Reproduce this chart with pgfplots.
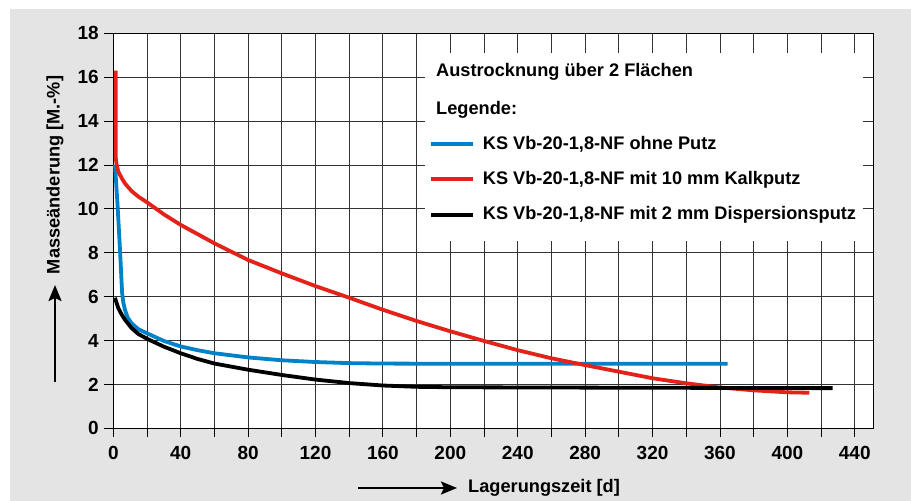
\documentclass[border=0pt]{standalone}
\usepackage{pgfplots}
\pgfplotsset{compat=1.18}
\usepackage{fontspec}
\setmainfont{Liberation Sans}
\usetikzlibrary{arrows.meta}
\definecolor{bggray}{RGB}{227,228,227}
\definecolor{cblue}{RGB}{0,130,200}
\definecolor{cred}{RGB}{227,34,25}
\begin{document}
\begin{tikzpicture}
\path[use as bounding box] (0pt,0pt) rectangle (911pt,501pt);
\fill[white] (0pt,0pt) rectangle (911pt,501pt);
\fill[bggray] (10pt,0pt) rectangle (911pt,492pt);
\begin{axis}[
  at={(113.3pt,72.7pt)}, anchor=south west,
  width=760pt, height=395pt, scale only axis,
  xmin=0, xmax=451, ymin=0, ymax=18,
  xtick={0,20,...,440},
  xticklabels={0,,40,,80,,120,,160,,200,,240,,280,,320,,360,,400,,440},
  ytick={0,2,...,18},
  grid=major,
  major grid style={black!80, line width=0.9pt},
  tick align=outside, tick pos=left,
  major tick length=9pt,
  tick style={black, line width=0.9pt},
  axis line style={black, line width=1.3pt},
  axis background/.style={fill=white},
  /pgf/number format/assume math mode=true,
  ticklabel style={font=\fontsize{19}{22}\selectfont\bfseries},
  xticklabel style={yshift=-5pt},
  yticklabel style={xshift=-2pt},
  clip=false,
]
\addplot[cblue, line width=3.8pt] coordinates {
 (1,12) (2.5,10.2) (4,8.1) (4.7,7.0) (5.2,6.2) (5.9,5.75) (6.9,5.4) (8.5,5.05)
 (10.8,4.79) (14.8,4.52) (20,4.33) (30,3.98) (40,3.73) (50,3.56) (60,3.42)
 (80,3.23) (100,3.1) (120,3.02) (140,2.97) (160,2.95) (200,2.94) (300,2.94) (364.5,2.94)
};
\addplot[cred, line width=3.8pt] coordinates {
 (1.5,16.3) (1.5,12.3) (2,12) (3,11.7) (5,11.4) (7,11.15) (11,10.8) (15,10.55)
 (20,10.3) (30,9.75) (40,9.27) (60,8.43) (80,7.67) (100,7.06) (120,6.48)
 (140,5.95) (160,5.4) (180,4.89) (200,4.42) (220,3.98) (240,3.56) (260,3.19)
 (280,2.88) (300,2.58) (320,2.28) (340,2.05) (360,1.86) (380,1.73) (400,1.64) (413,1.62)
};
\addplot[black, line width=3.8pt] coordinates {
 (1,5.95) (2,5.7) (3,5.47) (5,5.18) (6.9,4.95) (10.8,4.57) (14.8,4.3) (20,4.08)
 (30,3.72) (40,3.42) (50,3.16) (60,2.95) (80,2.67) (100,2.43) (120,2.22) (140,2.06)
 (160,1.95) (180,1.89) (200,1.87) (300,1.85) (426.8,1.83)
};
\end{axis}
% legend box
\fill[white] (425pt,260.3pt) rectangle (863pt,448pt);
\begin{scope}[every node/.style={font=\fontsize{18.2}{21}\selectfont\bfseries, inner sep=0pt, anchor=west}]
\node at (436pt,429.3pt) {Austrocknung über 2 Flächen};
\node at (436pt,391pt) {Legende:};
\draw[cblue, line width=3.8pt] (431pt,357pt) -- (473pt,357pt);
\node at (482.7pt,357pt) {KS Vb-20-1,8-NF ohne Putz};
\draw[cred, line width=3.8pt] (431pt,321.7pt) -- (473pt,321.7pt);
\node at (482.7pt,321.7pt) {KS Vb-20-1,8-NF mit 10 mm Kalkputz};
\draw[black, line width=3.8pt] (431pt,286pt) -- (473pt,286pt);
\node at (482.7pt,286pt) {KS Vb-20-1,8-NF mit 2 mm Dispersionsputz};
\node at (468pt,13pt) {Lagerungszeit [d]};
\node[anchor=center, rotate=90] at (55pt,326pt) {Masseänderung [M.-\%]};
\end{scope}
\draw[line width=2.2pt, -{Stealth[length=16pt,width=13pt,inset=3pt]}] (55pt,119pt) -- (55pt,216pt);
\draw[line width=2.2pt, -{Stealth[length=16pt,width=13pt,inset=3pt]}] (358pt,13pt) -- (457pt,13pt);
\end{tikzpicture}
\end{document}
